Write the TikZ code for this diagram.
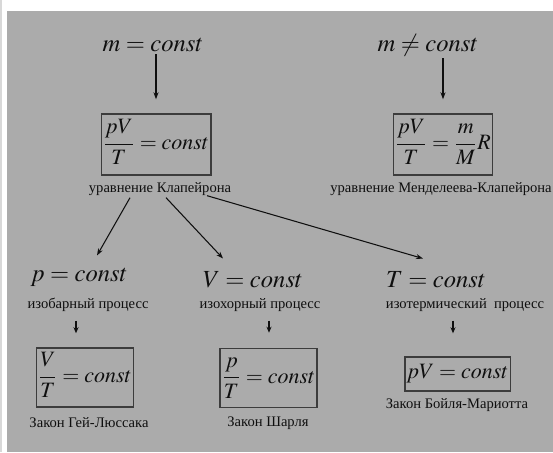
\documentclass[tikz,border=0pt]{standalone}
\usepackage{mathptmx}
\usepackage{fontspec}
\setmainfont{Liberation Serif}
\usetikzlibrary{arrows.meta, positioning}
\definecolor{bggray}{RGB}{171,171,171}
\definecolor{stripgray}{RGB}{216,216,216}
\definecolor{boxgray}{RGB}{60,60,60}
\definecolor{inkgray}{RGB}{15,15,15}

\begin{document}
\begin{tikzpicture}[x=0.02cm, y=-0.02cm, >=Stealth, color=inkgray,
    cond/.style={font=\fontsize{14}{16}\selectfont, inner sep=0pt},
    frm/.style={draw=boxgray, line width=0.8pt, inner sep=1pt, font=\fontsize{12.5}{14}\selectfont},
    note/.style={font=\fontsize{8.3}{10}\selectfont, inner sep=1pt},
    big/.style={->, line width=0.6pt, >={Stealth[length=0.14cm, width=0.1cm]}},
    small/.style={->, line width=0.6pt, >={Stealth[length=0.12cm, width=0.1cm]}}]
    % background
    \fill[white] (0,0) rectangle (553,452);
    \fill[stripgray] (0,0) rectangle (2,452);
    \fill[bggray] (7,11) rectangle (553,452);
    \useasboundingbox (0,0) rectangle (553,452);

    % upper row
    \node[cond] (mc) at (153,45) {$m = const$};
    \node[cond] (mnc) at (428,45) {$m \neq const$};
    \node[frm, minimum width=2.04cm, minimum height=1.22cm] (eq1) at (156,144.5)
        {$\displaystyle\frac{\strut pV}{\strut T} = const$};
    \node[frm, minimum width=1.96cm, minimum height=1.22cm] (eq2) at (443,144.5)
        {$\displaystyle\frac{\strut pV}{\strut T} = \frac{\strut m}{\strut M}R$};
    \node[note] (lab1) at (160,189) {уравнение Клапейрона};
    \node[note] (lab2) at (441,189) {уравнение Менделеева-Клапейрона};

    \draw[big, shorten <=0.04cm, shorten >=0.28cm] (eq1.north |- mc.south) -- (eq1.north);
    \draw[big, shorten <=0.04cm, shorten >=0.28cm] (eq2.north |- mnc.south) -- (eq2.north);

    % processes
    \node[cond] (pc) at (79,277) {$p = const$};
    \node[cond] (vc) at (253,280) {$V = const$};
    \node[cond] (tc) at (436,280) {$T = const$};
    \node[note] (pl1) at (88,305) {изобарный процесс};
    \node[note] (pl2) at (260,305) {изохорный процесс};
    \node[note] (pl3) at (465,305) {изотермический\enspace процесс};

    \draw[big] ([xshift=-0.6cm]lab1.south) -- ([xshift=0.36cm, yshift=0.24cm]pc.north);
    \draw[big] ([xshift=0.12cm]lab1.south) -- ([xshift=-0.6cm, yshift=0.26cm]vc.north);
    \draw[big] ([xshift=0.94cm, yshift=0.04cm]lab1.south) -- ([xshift=-0.26cm, yshift=0.26cm]tc.north);

    % laws
    \node[frm, minimum width=1.72cm, minimum height=1.18cm] (b1) at (85,377.5)
        {$\displaystyle\frac{\strut V}{\strut T} = const$};
    \node[frm, minimum width=1.7cm, minimum height=1.16cm] (b2) at (268.5,378)
        {$\displaystyle\frac{\strut p}{\strut T} = const$};
    \node[frm, minimum width=1.98cm, minimum height=0.68cm] (b3) at (457.5,374)
        {$pV = const$};
    \node[note] (law1) at (89,423) {Закон Гей-Люссака};
    \node[note] (law2) at (268,423) {Закон Шарля};
    \node[note] (law3) at (457,405) {Закон Бойля-Мариотта};

    \coordinate (s1) at ([xshift=-0.24cm]pl1.south);
    \coordinate (s2) at ([xshift=0.18cm]pl2.south);
    \coordinate (s3) at ([xshift=-0.24cm]pl3.south);
    \draw[small, shorten <=0.14cm, shorten >=0.28cm] (s1) -- (s1 |- b1.north);
    \draw[small, shorten <=0.14cm, shorten >=0.3cm] (s2) -- (s2 |- b2.north);
    \draw[small, shorten <=0.14cm, shorten >=0.46cm] (s3) -- (s3 |- b3.north);
\end{tikzpicture}
\end{document}
